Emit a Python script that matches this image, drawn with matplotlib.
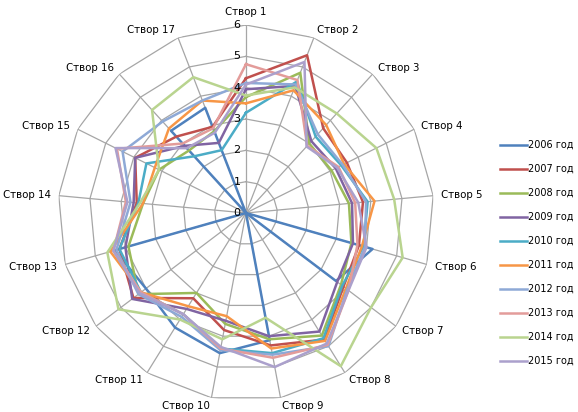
import numpy as np
import matplotlib.pyplot as plt

# categories (створи) and yearly series
categories = ["Створ %d" % i for i in range(1, 18)]
years = ["2006 год", "2007 год", "2008 год", "2009 год", "2010 год",
         "2011 год", "2012 год", "2013 год", "2014 год", "2015 год"]

v2006 = [0, 0, 0, 0, 0, 4.2, 3.6, 0, 4.13, 4.55, 4.3, 4.0, 4.35, 0, 0, 3.55, 3.6]
v2007 = [4.3, 5.4, 3.66, 3.6, 3.75, 3.75, 3.9, 4.75, 4.3, 3.8, 3.2, 4.5, 4.2, 3.5, 3.95, 3.3, 2.95]
v2008 = [3.7, 4.8, 3.0, 3.05, 3.3, 3.5, 3.8, 4.6, 4.1, 3.6, 3.0, 4.3, 3.9, 3.3, 3.1, 2.7, 2.8]
v2009 = [3.95, 4.35, 3.1, 3.2, 3.4, 3.55, 3.65, 4.45, 4.0, 3.5, 3.6, 4.55, 4.0, 3.6, 3.95, 2.9, 2.4]
v2010 = [3.2, 4.5, 3.3, 3.4, 3.9, 3.9, 3.85, 4.7, 4.55, 4.4, 3.8, 4.2, 4.2, 3.45, 3.55, 2.45, 2.15]
v2011 = [3.5, 4.2, 3.8, 3.5, 4.12, 3.85, 4.0, 4.8, 4.4, 3.35, 3.5, 4.2, 4.5, 3.3, 3.25, 3.65, 3.85]
v2012 = [4.15, 4.4, 3.4, 3.45, 3.85, 3.95, 4.05, 5.0, 4.6, 4.45, 3.9, 4.3, 4.3, 3.7, 4.4, 3.95, 3.85]
v2013 = [4.75, 4.55, 2.9, 3.3, 3.5, 3.7, 4.1, 4.95, 4.7, 4.4, 3.8, 4.2, 4.4, 3.85, 4.6, 3.0, 2.9]
v2014 = [3.75, 4.3, 4.3, 4.65, 4.75, 5.2, 5.0, 5.75, 3.4, 4.1, 4.0, 5.1, 4.6, 3.4, 3.1, 4.45, 4.65]
v2015 = [4.1, 5.17, 2.87, 3.25, 3.6, 4.0, 4.1, 4.9, 5.0, 4.35, 3.8, 4.25, 4.4, 3.8, 4.65, 2.8, 2.75]

series = [v2006, v2007, v2008, v2009, v2010, v2011, v2012, v2013, v2014, v2015]
colors = ["#4F81BD", "#C0504D", "#9BBB59", "#8064A2", "#4BACC6",
          "#F79646", "#8EA9D6", "#E39C9A", "#B9D48F", "#ABA0CC"]
r_ticks = [0, 1, 2, 3, 4, 5, 6]

n = len(categories)
theta = np.arange(n) * 2 * np.pi / n
theta_closed = np.append(theta, theta[0])

fig = plt.figure(figsize=(5.78, 4.12), dpi=100)
ax = fig.add_axes([0.1003, 0.0267, 0.6505, 0.9126], polar=True)
ax.set_theta_zero_location("N")
ax.set_theta_direction(-1)
ax.set_ylim(0, r_ticks[-1])
ax.grid(False)
ax.spines["polar"].set_visible(False)
ax.set_xticks([])
ax.set_yticks([])

grid_col = "#a6a6a6"
# polygon grid
for r in r_ticks[1:]:
    ax.plot(theta_closed, [r] * (n + 1), color=grid_col, lw=0.9, zorder=1)
for t in theta:
    ax.plot([t, t], [0, r_ticks[-1]], color=grid_col, lw=0.9, zorder=1)

for vals, col, name in zip(series, colors, years):
    ax.plot(theta_closed, vals + vals[:1], color=col, lw=1.8, label=name, zorder=3)

# radial tick labels along the first axis
for r in r_ticks:
    ax.annotate(str(r), xy=(0, r), xytext=(-4, 0), textcoords="offset points",
                ha="right", va="center", fontsize=8, zorder=4)

# category labels
for t, lab in zip(theta, categories):
    s, c = np.sin(t), np.cos(t)
    if abs(s) < 0.05:
        ha, va = "center", "bottom"
    else:
        ha, va = ("left" if s > 0 else "right"), "center"
    ax.annotate(lab, xy=(t, 6), xytext=(5.8 * s, 5.8 * c), textcoords="offset points",
                ha=ha, va=va, fontsize=7.4)

fig.legend(loc="center left", bbox_to_anchor=(0.85, 0.386), frameon=False,
           fontsize=7, handlelength=2.8, labelspacing=1.44, handletextpad=0.1)

fig.savefig("out.png", dpi=100)
